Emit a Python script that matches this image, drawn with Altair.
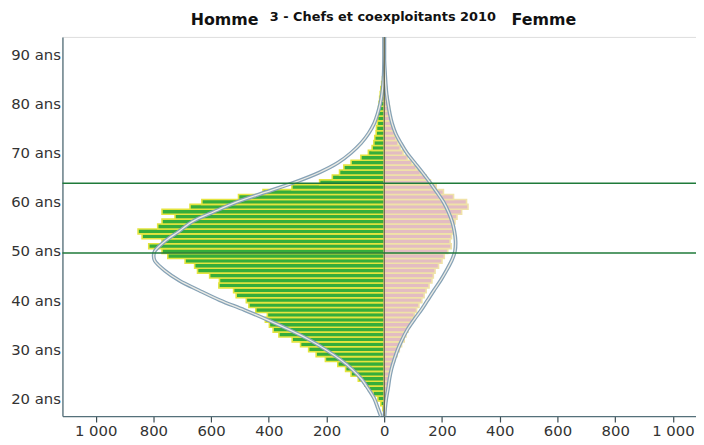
import altair as alt
import pandas as pd

# ---- data ----
men_ages = list(range(18, 87))
men_counts = [5, 12, 22, 39, 54, 67, 90, 115, 134, 161, 204, 236, 262, 290, 319, 365,
              385, 398, 412, 405, 445, 469, 478, 513, 522, 573, 571, 605, 647, 657, 690,
              750, 770, 816, 770, 839, 853, 785, 770, 725, 770, 673, 632, 505, 420, 320,
              224, 180, 155, 140, 115, 81, 55, 42, 36, 33, 28, 27, 24, 23, 22, 20, 18,
              16, 14, 12, 9, 6, 3]

women_ages = list(range(18, 88))
women_counts = [3, 6, 9, 11, 13, 15, 18, 21, 25, 30, 36, 44, 52, 60, 69, 75, 82, 90, 97,
                104, 112, 120, 130, 138, 145, 155, 165, 170, 176, 188, 200, 208, 220, 232,
                228, 233, 238, 236, 245, 252, 268, 290, 285, 240, 205, 180, 160, 145, 125,
                110, 95, 80, 65, 55, 47, 40, 35, 30, 27, 24, 21, 18, 15, 13, 10, 8, 6, 4,
                3, 2]

curve_ages = [16.4, 18, 20, 22, 24, 26, 28, 30, 32, 34, 36, 38, 40, 42, 44, 46, 48, 49,
              50, 52, 54, 56, 58, 60, 62, 64, 66, 68, 70, 72, 74, 76, 78, 80, 82, 84, 86,
              88, 90, 93.6]
men_curve = [12, 22, 35, 56, 80, 113, 155, 205, 262, 330, 405, 485, 570, 642, 710, 760,
             795, 799, 795, 760, 712, 665, 590, 510, 410, 310, 225, 160, 115, 80, 54, 35,
             23, 14, 8, 4, 2, 1, 0, 0]
women_curve = [1, 3, 7, 13, 18, 25, 35, 47, 62, 80, 103, 128, 150, 172, 195, 215, 233,
               240, 245, 247, 243, 235, 222, 205, 182, 158, 132, 105, 78, 57, 39, 27, 19,
               13, 8, 5, 3, 1, 0, 0]

median_lines = [63.8, 49.6]
age_ticks = [20, 30, 40, 50, 60, 70, 80, 90]
count_ticks = [-1000, -800, -600, -400, -200, 0, 200, 400, 600, 800, 1000]
headers = ["Homme", "Femme"]
header_pos = [-553, 553]
title_text = ["3 - Chefs et coexploitants 2010"]
title_pos = [-5]

# ---- tables ----
men_df = pd.DataFrame({"age": men_ages, "n": men_counts})
men_df["x"] = -men_df["n"]
men_df["zero"] = 0
men_df["lo"] = men_df["age"] - 0.5
men_df["hi"] = men_df["age"] + 0.5

women_df = pd.DataFrame({"age": women_ages, "n": women_counts})
women_df["x"] = women_df["n"]
women_df["zero"] = 0
women_df["lo"] = women_df["age"] - 0.5
women_df["hi"] = women_df["age"] + 0.5

men_curve_df = pd.DataFrame({"age": curve_ages, "v": [-v for v in men_curve]})
women_curve_df = pd.DataFrame({"age": curve_ages, "v": women_curve})
med_df = pd.DataFrame({"age": median_lines})
center_df = pd.DataFrame({"x": [0]})
head_df = pd.DataFrame({"label": headers, "pos": header_pos})
title_df = pd.DataFrame({"label": title_text, "pos": title_pos})

xs = alt.Scale(domain=[-1115, 1080], nice=False, zero=False)
ys = alt.Scale(domain=[16.4, 93.6], nice=False, zero=False)

x_axis = alt.Axis(values=count_ticks, title=None, grid=False,
                  labelExpr="replace(format(abs(datum.value), ','), ',', ' ')",
                  tickSize=6, tickColor="#3a4a50", tickWidth=1.2,
                  domainColor="#55707a", domainWidth=1.3,
                  labelFont="DejaVu Sans", labelFontSize=15, labelColor="#333333",
                  labelPadding=2)
y_axis = alt.Axis(values=age_ticks, title=None, grid=False, ticks=False,
                  labelExpr="datum.value + ' ans'",
                  domainColor="#55707a", domainWidth=1.3,
                  labelFont="DejaVu Sans", labelFontSize=15, labelColor="#333333",
                  labelPadding=2)

X = lambda f: alt.X(f, scale=xs, axis=x_axis)
Y = lambda f: alt.Y(f, scale=ys, axis=y_axis)

men_bars = alt.Chart(men_df).mark_rect(fill="#35ad3b", stroke="#e4e43e", strokeWidth=1.6).encode(
    x=X("x:Q"), x2="zero:Q", y=Y("lo:Q"), y2="hi:Q",
)
women_bars = alt.Chart(women_df).mark_rect(fill="#e3bcc2", stroke="#f0e2a8", strokeWidth=1.6).encode(
    x=X("x:Q"), x2="zero:Q", y=Y("lo:Q"), y2="hi:Q",
)

def curve(df):
    outer = alt.Chart(df).mark_line(color="#86a2b6", strokeWidth=3.8, interpolate="catmull-rom").encode(
        x=X("v:Q"), y=Y("age:Q"), order="age:Q",
    )
    inner = alt.Chart(df).mark_line(color="#ecebe4", strokeWidth=1.3, interpolate="catmull-rom").encode(
        x=X("v:Q"), y=Y("age:Q"), order="age:Q",
    )
    return outer + inner

center = alt.Chart(center_df).mark_rule(color="#5f6048", strokeWidth=1.2).encode(x=X("x:Q"))
meds = alt.Chart(med_df).mark_rule(color="#1f7a3a", strokeWidth=1.6).encode(y=Y("age:Q"))
heads = alt.Chart(head_df).mark_text(font="DejaVu Sans", fontWeight="bold", fontSize=16,
                                     color="#111111", baseline="middle").encode(
    x=X("pos:Q"),
    y=alt.value(-17),
    text="label:N",
)
title_mark = alt.Chart(title_df).mark_text(font="DejaVu Sans", fontWeight="bold", fontSize=13,
                                           color="#111111", baseline="middle").encode(
    x=X("pos:Q"),
    y=alt.value(-20),
    text="label:N",
)

chart = alt.layer(
    men_bars, women_bars, curve(men_curve_df), curve(women_curve_df), center, meds,
    heads, title_mark
).properties(
    width=640, height=383,
    autosize=alt.AutoSizeParams(type="none"),
    padding={"left": 55, "top": 27, "right": 0, "bottom": 26},
).configure_view(stroke="#a9c4cc", strokeWidth=1).configure(background="white")

chart.save("out.html", embed_options={"renderer": "svg", "actions": False})
